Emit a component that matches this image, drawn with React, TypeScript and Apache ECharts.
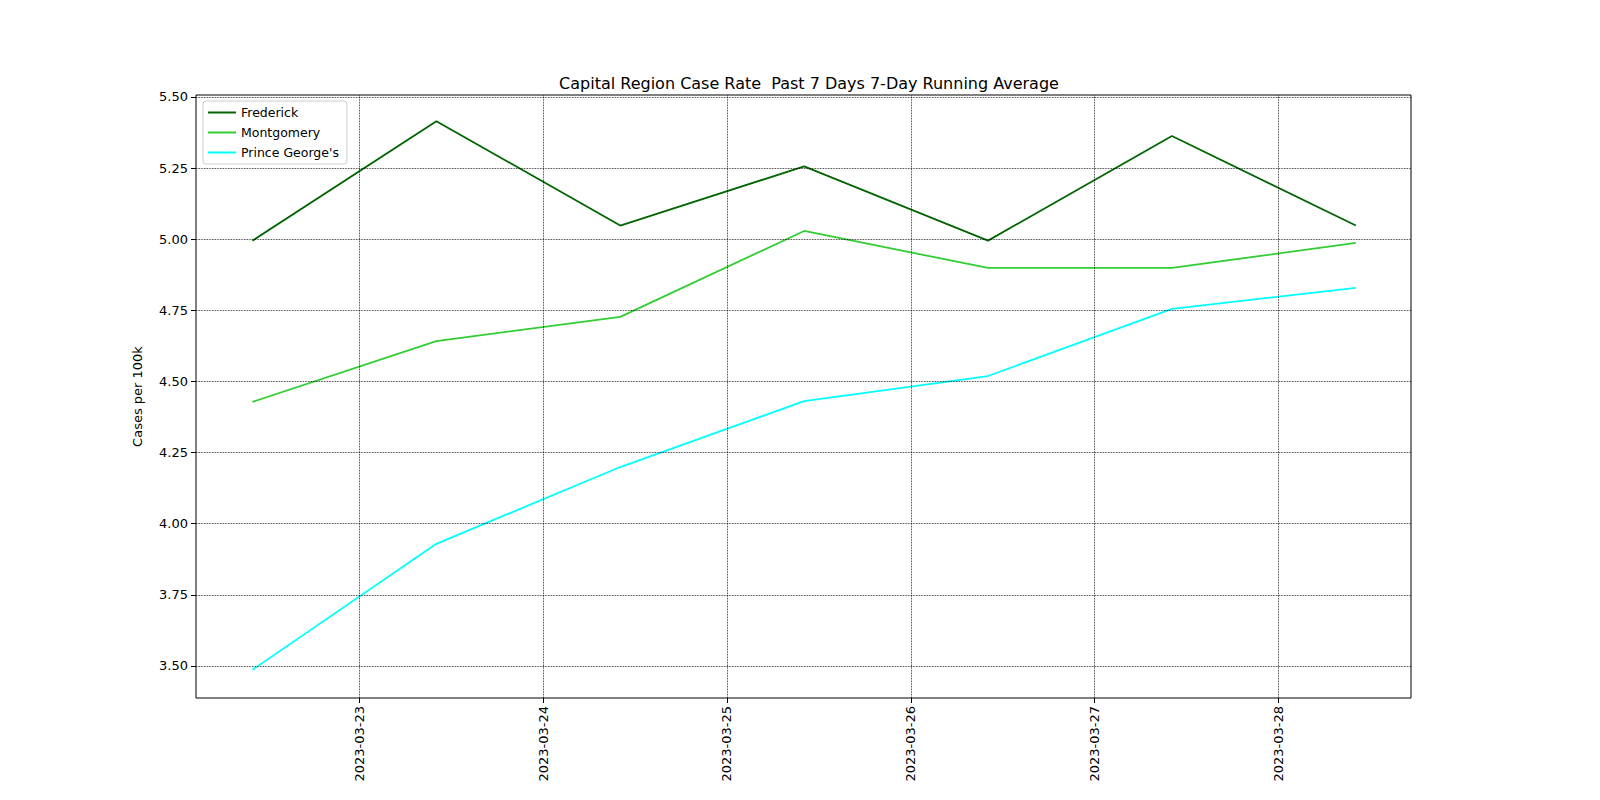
import { useEffect, useRef } from "react";
import * as echarts from "echarts";

// x is days since 2023-03-22 00:00
const xs = [0.42, 1.42, 2.42, 3.42, 4.42, 5.42, 6.42];
const frederick = [4.995, 5.415, 5.048, 5.256, 4.995, 5.363, 5.048];
const montgomery = [4.428, 4.642, 4.727, 5.029, 4.899, 4.899, 4.987];
const princeGeorges = [3.486, 3.929, 4.199, 4.431, 4.519, 4.755, 4.829];
const xTicks = [1, 2, 3, 4, 5, 6];
const yTicks = [3.5, 3.75, 4.0, 4.25, 4.5, 4.75, 5.0, 5.25, 5.5];

const pair = (v: number[]) => v.map((y, i) => [xs[i], y]);
const grid = { type: "dotted" as const, color: "#000", width: 0.8 };

export default function App() {
  const ref = useRef<HTMLDivElement>(null);
  useEffect(() => {
    if (!ref.current) return;
    const chart = echarts.init(ref.current, undefined, { renderer: "svg" });
    chart.setOption({
      animation: false,
      textStyle: { fontFamily: "DejaVu Sans" },
      title: {
        text: "Capital Region Case Rate  Past 7 Days 7-Day Running Average",
        left: 804, top: 70, textAlign: "center",
        textStyle: { fontSize: 16, fontWeight: "normal", color: "#000" },
      },
      legend: {
        orient: "vertical", left: 203, top: 101, padding: [5, 8, 5, 5],
        backgroundColor: "#fff", borderColor: "#ccc", borderWidth: 1, borderRadius: 3,
        itemWidth: 28, itemHeight: 2, icon: "rect", itemGap: 7,
        textStyle: { fontSize: 12.5, color: "#000" },
        data: ["Frederick", "Montgomery", "Prince George's"],
      },
      grid: { left: 196, top: 95, width: 1215, height: 603, show: true, borderColor: "#000", borderWidth: 1 },
      xAxis: {
        type: "value", min: 0.113, max: 6.72,
        axisLine: { show: false }, splitLine: { show: false },
        axisTick: { show: true, customValues: xTicks, length: 5, lineStyle: { color: "#000" } },
        axisLabel: {
          customValues: xTicks, rotate: 90, fontSize: 13, color: "#000",
          formatter: (v: number) => `2023-03-${22 + Math.round(v)}`,
        },
      },
      yAxis: {
        type: "value", min: 3.387, max: 5.507,
        name: "Cases per 100k", nameLocation: "middle", nameGap: 52,
        nameTextStyle: { fontSize: 13, color: "#000" },
        axisLine: { show: false }, splitLine: { show: false },
        axisTick: { show: true, customValues: yTicks, length: 5, lineStyle: { color: "#000" } },
        axisLabel: { customValues: yTicks, fontSize: 13, color: "#000", formatter: (v: number) => v.toFixed(2) },
      },
      series: [
        {
          type: "line", data: [], silent: true,
          markLine: {
            silent: true, symbol: "none", label: { show: false }, lineStyle: grid,
            data: [...xTicks.map((x) => ({ xAxis: x })), ...yTicks.map((y) => ({ yAxis: y }))],
          },
        },
        { name: "Frederick", type: "line", data: pair(frederick), showSymbol: false, color: "#006400", lineStyle: { width: 1.8 } },
        { name: "Montgomery", type: "line", data: pair(montgomery), showSymbol: false, color: "#32cd32", lineStyle: { width: 1.8 } },
        { name: "Prince George's", type: "line", data: pair(princeGeorges), showSymbol: false, color: "#00ffff", lineStyle: { width: 1.8 } },
      ],
    });
    return () => chart.dispose();
  }, []);
  return <div ref={ref} style={{ position: "fixed", left: 0, top: 0, width: 1600, height: 800, background: "#fff" }} />;
}
